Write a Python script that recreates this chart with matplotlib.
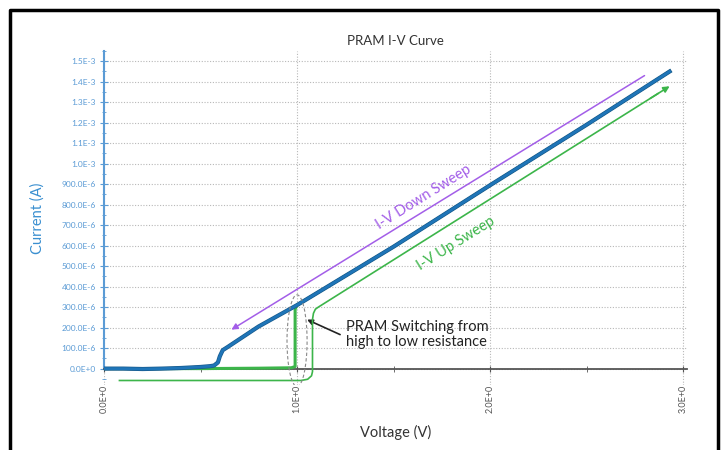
import matplotlib
matplotlib.use("Agg")
import matplotlib.pyplot as plt
import matplotlib.patheffects as pe
from matplotlib.patches import Ellipse
from matplotlib.lines import Line2D
from matplotlib.ticker import MultipleLocator, FuncFormatter

plt.rcParams['font.family'] = ['Lato', 'DejaVu Sans']

# measured curves (V, mA)
down_v = [0.0, 0.1, 0.2, 0.3, 0.4, 0.5, 0.55, 0.57, 0.59, 0.60, 0.615, 0.64,
          0.8, 1.0, 1.5, 2.0, 2.5, 2.93]
down_i = [0.0, 0.0, -0.002, 0.0, 0.003, 0.008, 0.012, 0.015, 0.03, 0.06, 0.09,
          0.105, 0.205, 0.31, 0.595, 0.895, 1.19, 1.45]

up_v = [0.0, 0.5, 0.8, 0.97, 0.99, 0.99, 1.0, 1.5, 2.0, 2.5, 2.93]
up_i = [0.0, 0.0, 0.002, 0.004, 0.01, 0.29, 0.31, 0.595, 0.895, 1.19, 1.45]

# sweep direction arrows
down_arrow_v = [2.80, 0.66]
down_arrow_i = [1.43, 0.19]
up_arrow_v = [0.08, 1.02, 1.055, 1.075, 1.08, 1.08, 1.085, 1.095, 1.11, 2.93]
up_arrow_i = [-0.058, -0.058, -0.052, -0.035, -0.015, 0.24, 0.27, 0.29, 0.30, 1.378]

y_ticks = [i * 0.1 for i in range(16)]
x_ticks = [0, 1, 2, 3]

blue = '#1f75b8'
green = '#3cb54a'
purple = '#a35ee8'
axis_blue = '#5b9bd5'

fig = plt.figure(figsize=(7.24, 4.5), dpi=100)
ax = fig.add_axes([104 / 724, 65 / 450, 583 / 724, 334 / 450])

ax.set_xlim(0, 3.02)
ax.set_ylim(-0.08, 1.55)

ax.plot(up_v, up_i, color=green, lw=2.2, zorder=3)
ax.plot(down_v, down_i, color=blue, lw=2.0, zorder=4,
        path_effects=[pe.Stroke(linewidth=3.0, foreground='#175a8c'), pe.Normal()])

# arrows
ax.annotate('', xy=(down_arrow_v[1], down_arrow_i[1]),
            xytext=(down_arrow_v[0], down_arrow_i[0]),
            arrowprops=dict(arrowstyle='-|>', color=purple, lw=1.1,
                            mutation_scale=9, shrinkA=0, shrinkB=0))
ax.plot(up_arrow_v[:-1] + [up_arrow_v[-1] - 0.06],
        up_arrow_i[:-1] + [up_arrow_i[-1] - 0.06 * 0.592],
        color=green, lw=1.2, zorder=5)
ax.annotate('', xy=(up_arrow_v[-1], up_arrow_i[-1]),
            xytext=(up_arrow_v[-1] - 0.1, up_arrow_i[-1] - 0.1 * 0.592),
            arrowprops=dict(arrowstyle='-|>', color=green, lw=1.2,
                            mutation_scale=9, shrinkA=0, shrinkB=0))

ax.text(1.653, 0.838, 'I-V Down Sweep', color=purple, fontsize=10.5,
        rotation=32, ha='center', va='center', rotation_mode='anchor')
ax.text(1.824, 0.609, 'I-V Up Sweep', color=green, fontsize=10.5,
        rotation=32, ha='center', va='center', rotation_mode='anchor')

ax.add_patch(Ellipse((1.0, 0.136), 0.104, 0.448, fill=False, ec='#888888',
                     ls=(0, (3, 2)), lw=0.8, zorder=6))
ax.annotate('', xy=(1.052, 0.239), xytext=(1.223, 0.166),
            arrowprops=dict(arrowstyle='-|>', color='#222222', lw=1.2,
                            mutation_scale=8, shrinkA=0, shrinkB=0))
ax.text(1.254, 0.166, 'PRAM Switching from\nhigh to low resistance',
        color='#222222', fontsize=10.5, ha='left', va='center',
        linespacing=1.15)

# axes styling
for s in ['top', 'right']:
    ax.spines[s].set_visible(False)
ax.spines['left'].set_color(axis_blue)
ax.spines['left'].set_linewidth(1.5)
ax.spines['left'].set_bounds(0, 1.55)
ax.spines['bottom'].set_position(('data', 0))
ax.spines['bottom'].set_color('#555555')
ax.spines['bottom'].set_linewidth(1.3)

ax.set_yticks(y_ticks)
ax.yaxis.set_minor_locator(MultipleLocator(0.05))
ax.set_xticks(x_ticks)
ax.xaxis.set_minor_locator(MultipleLocator(0.5))


def fmt_y(v, pos):
    if abs(v) < 1e-9:
        return '0.0E+0'
    if v < 0.95:
        return '%.1fE-6' % (v * 1000)
    return '%.1fE-3' % v


ax.yaxis.set_major_formatter(FuncFormatter(fmt_y))
ax.xaxis.set_major_formatter(FuncFormatter(lambda v, p: '%.1fE+0' % v))

ax.tick_params(axis='y', which='both', direction='inout', colors=axis_blue,
               labelsize=6, pad=3)
ax.tick_params(axis='y', which='major', length=6)
ax.tick_params(axis='y', which='minor', length=3)
ax.tick_params(axis='x', which='both', direction='inout', color='#555555',
               labelcolor='#555555', labelsize=6.5, labelrotation=90, pad=9)
ax.tick_params(axis='x', which='major', length=5)
ax.tick_params(axis='x', which='minor', length=4)

ax.grid(True, which='major', color='#b8b8b8', ls=(0, (1, 1.5)), lw=0.8)
ax.set_axisbelow(True)

ax.set_title('PRAM I-V Curve', fontsize=9.5, color='#333333', pad=4)
ax.set_ylabel('Current (A)', color='#3a8fd0', fontsize=10.5, labelpad=12)
ax.set_xlabel('Voltage (V)', color='#333333', fontsize=10.5, labelpad=9)

# outer frame
fig.add_artist(Line2D([10 / 724, 10 / 724, 718 / 724, 718 / 724],
                      [-0.05, 1 - 10 / 450, 1 - 10 / 450, -0.05],
                      transform=fig.transFigure, color='black', lw=2.5))

fig.savefig('out.png', dpi=100)
